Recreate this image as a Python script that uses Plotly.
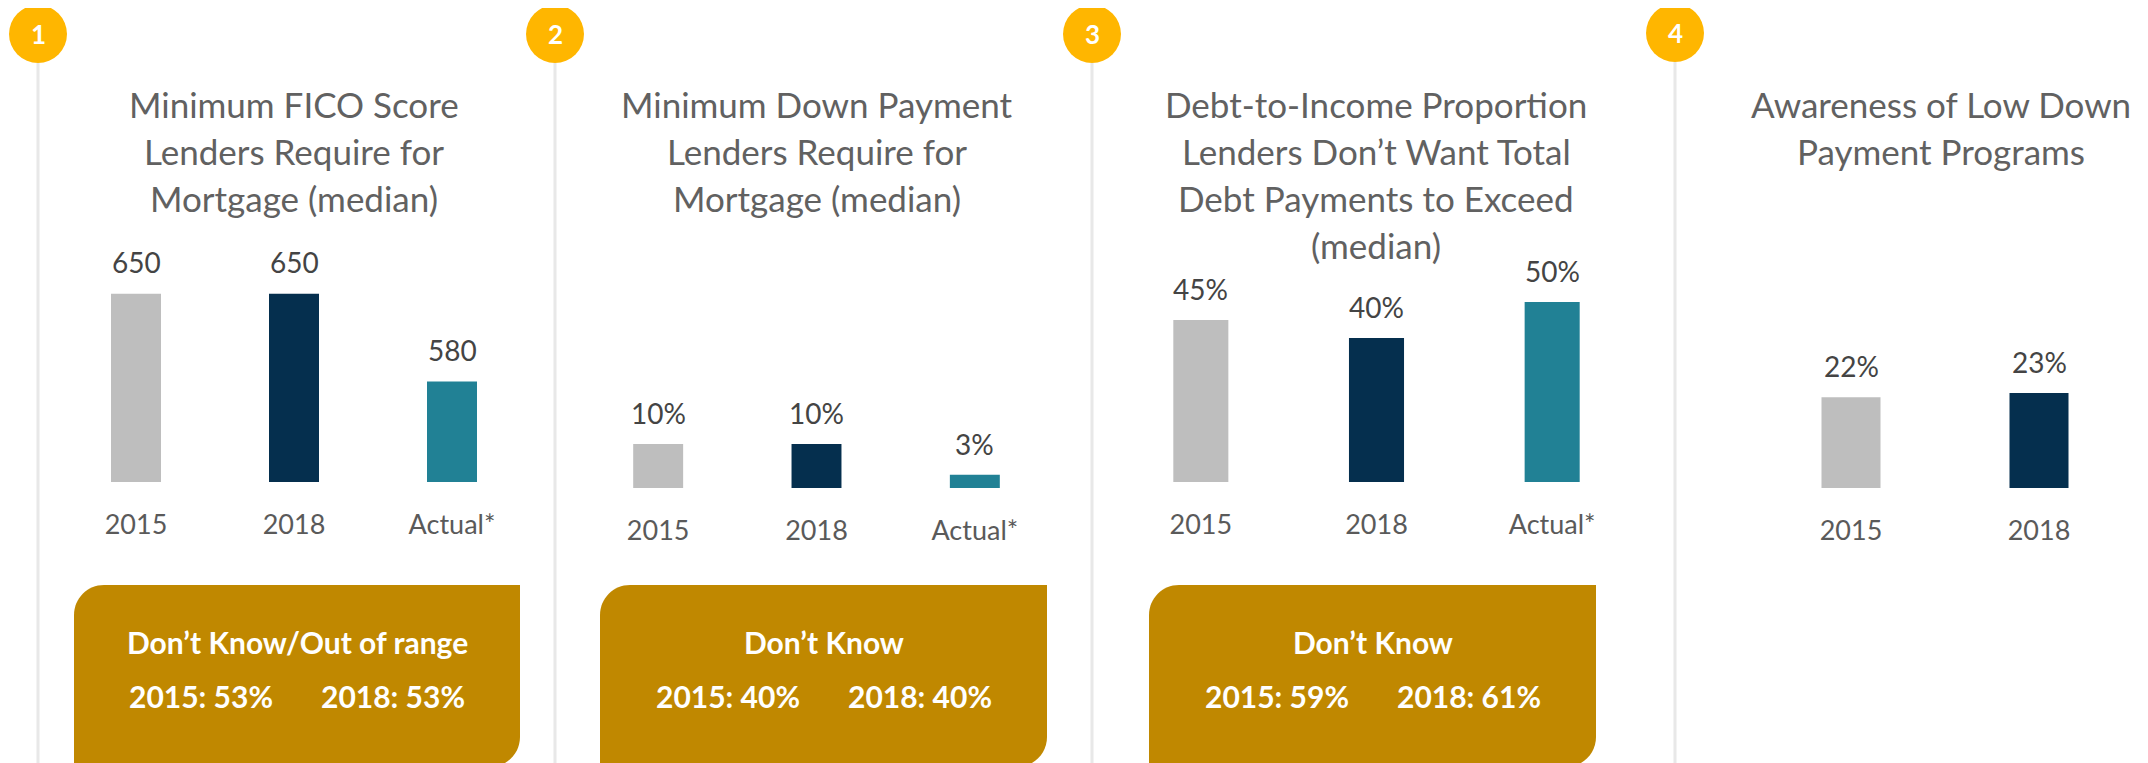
import plotly.graph_objects as go

# The page body has an 8px default margin, so the figure is placed inside it
# and screen-pixel positions are converted by removing it.
SCREEN_W, SCREEN_H = 2148, 763
OFF = 8
W, H = SCREEN_W - 2 * OFF, SCREEN_H - OFF

# ---------------- data ----------------
categories_3 = ["2015", "2018", "Actual*"]
categories_2 = ["2015", "2018"]

fico_values = [650, 650, 580]
fico_labels = ["650", "650", "580"]
down_values = [10, 10, 3]
down_labels = ["10%", "10%", "3%"]
dti_values = [45, 40, 50]
dti_labels = ["45%", "40%", "50%"]
aware_values = [22, 23]
aware_labels = ["22%", "23%"]

titles = [
    ["Minimum FICO Score", "Lenders Require for", "Mortgage (median)"],
    ["Minimum Down Payment", "Lenders Require for", "Mortgage (median)"],
    ["Debt-to-Income Proportion", "Lenders Don’t Want Total", "Debt Payments to Exceed", "(median)"],
    ["Awareness of Low Down", "Payment Programs"],
]
panel_numbers = ["1", "2", "3", "4"]

dk_heads = ["Don’t Know/Out of range", "Don’t Know", "Don’t Know"]
dk_2015 = ["2015: 53%", "2015: 40%", "2015: 59%"]
dk_2018 = ["2018: 53%", "2018: 40%", "2018: 61%"]

# ---------------- style ----------------
C_GRAY = "#BEBEBE"
C_NAVY = "#052F4E"
C_TEAL = "#218195"
C_GOLD = "#C08800"
C_AMBER = "#FFB600"
C_LINE = "#E8E8E8"
C_TITLE = "#616161"
C_VAL = "#444444"
C_CAT = "#5A5A5A"
FONT = "Lato"


def px_x(p):
    return (p - OFF) / W


def px_y(p):
    return 1 - (p - OFF) / H


panels = [
    dict(cats=categories_3, vals=fico_values, labs=fico_labels, base=500, scale=1.257,
         xpx=(57, 531), bottom=482, colors=[C_GRAY, C_NAVY, C_TEAL], bw=50 / 158,
         title_x=294, circle_x=38, circle_y=34),
    dict(cats=categories_3, vals=down_values, labs=down_labels, base=0, scale=4.4,
         xpx=(579, 1054), bottom=488, colors=[C_GRAY, C_NAVY, C_TEAL], bw=50 / 158.5,
         title_x=817, circle_x=555, circle_y=34),
    dict(cats=categories_3, vals=dti_values, labs=dti_labels, base=0, scale=3.6,
         xpx=(1113, 1640), bottom=482, colors=[C_GRAY, C_NAVY, C_TEAL], bw=55 / 175.5,
         title_x=1376, circle_x=1092, circle_y=34),
    dict(cats=categories_2, vals=aware_values, labs=aware_labels, base=0, scale=4.13,
         xpx=(1757, 2133), bottom=488, colors=[C_GRAY, C_NAVY], bw=59 / 188,
         title_x=1941, circle_x=1675, circle_y=33),
]

boxes = [(74, 520), (600, 1047), (1149, 1596)]
BOX_TOP, BOX_BOT, BOX_R = 585, 767, 30

fig = go.Figure()
annotations = []
shapes = []

for i, p in enumerate(panels):
    ax = "" if i == 0 else str(i + 1)
    top_val = max(p["vals"])
    top_px = p["bottom"] - (top_val - p["base"]) * p["scale"]
    fig.add_trace(go.Bar(
        x=p["cats"], y=p["vals"], marker=dict(color=p["colors"], line=dict(width=0)),
        width=p["bw"], xaxis="x" + ax, yaxis="y" + ax, hoverinfo="skip",
    ))
    fig.update_layout(**{
        "xaxis" + ax: dict(type="category", domain=[px_x(p["xpx"][0]), px_x(p["xpx"][1])],
                           anchor="y" + ax, range=[-0.5, len(p["cats"]) - 0.5],
                           showgrid=False, zeroline=False, showline=False, ticks="",
                           ticklabelstandoff=24,
                           tickfont=dict(family=FONT, size=27, color=C_CAT), fixedrange=True),
        "yaxis" + ax: dict(domain=[px_y(p["bottom"]), px_y(top_px)], anchor="x" + ax,
                           range=[p["base"], top_val], visible=False, fixedrange=True),
    })
    for idx, (v, l) in enumerate(zip(p["vals"], p["labs"])):
        annotations.append(dict(x=idx, y=v, xref="x" + ax, yref="y" + ax, text=l,
                                showarrow=False, xanchor="center", yanchor="middle", yshift=31,
                                font=dict(family=FONT, size=28, color=C_VAL)))
    for k, line in enumerate(titles[i]):
        annotations.append(dict(x=px_x(p["title_x"]), y=px_y(104 + 47 * k), xref="paper",
                                yref="paper", text=line, showarrow=False, yanchor="middle",
                                xanchor="center", font=dict(family=FONT, size=35, color=C_TITLE)))
    # timeline line and number circle
    cx, cy, r = p["circle_x"], p["circle_y"], 29
    shapes.append(dict(type="line", xref="paper", yref="paper", x0=px_x(cx), x1=px_x(cx),
                       y0=px_y(cy + r), y1=px_y(SCREEN_H + 10), line=dict(color=C_LINE, width=3),
                       layer="below"))
    shapes.append(dict(type="circle", xref="paper", yref="paper", x0=px_x(cx - r), x1=px_x(cx + r),
                       y0=px_y(cy + r), y1=px_y(cy - r), fillcolor=C_AMBER, line=dict(width=0)))
    annotations.append(dict(x=px_x(cx), y=px_y(cy), xref="paper", yref="paper",
                            text="<b>%s</b>" % panel_numbers[i], showarrow=False,
                            xanchor="center", yanchor="middle",
                            font=dict(family=FONT, size=26, color="white")))

# Don't know boxes (rounded top-left and bottom-right corners)
kk = 0.5523
for j, (x0, x1) in enumerate(boxes):
    t, b, r = BOX_TOP, BOX_BOT, BOX_R
    pts = [
        ("M", [(x0, t + r)]),
        ("C", [(x0, t + r - kk * r), (x0 + r - kk * r, t), (x0 + r, t)]),
        ("L", [(x1, t)]),
        ("L", [(x1, b - r)]),
        ("C", [(x1, b - r + kk * r), (x1 - r + kk * r, b), (x1 - r, b)]),
        ("L", [(x0, b)]),
    ]
    path = ""
    for cmd, coords in pts:
        path += cmd + " " + " ".join("%.6f,%.6f" % (px_x(a), px_y(c)) for a, c in coords) + " "
    path += "Z"
    shapes.append(dict(type="path", xref="paper", yref="paper", path=path,
                       fillcolor=C_GOLD, line=dict(width=0), layer="below"))
    cxb = (x0 + x1) / 2
    for txt, xx, yy in [(dk_heads[j], cxb, 642), (dk_2015[j], cxb - 96, 696),
                        (dk_2018[j], cxb + 96, 696)]:
        annotations.append(dict(x=px_x(xx), y=px_y(yy), xref="paper", yref="paper",
                                text="<b>%s</b>" % txt, showarrow=False,
                                xanchor="center", yanchor="middle",
                                font=dict(family=FONT, size=30, color="white")))

fig.update_layout(
    width=W, height=H, margin=dict(l=0, r=0, t=0, b=0),
    paper_bgcolor="white", plot_bgcolor="rgba(0,0,0,0)",
    showlegend=False, annotations=annotations, shapes=shapes,
    font=dict(family=FONT),
)

fig.write_html("out.html", config={"displayModeBar": False})
